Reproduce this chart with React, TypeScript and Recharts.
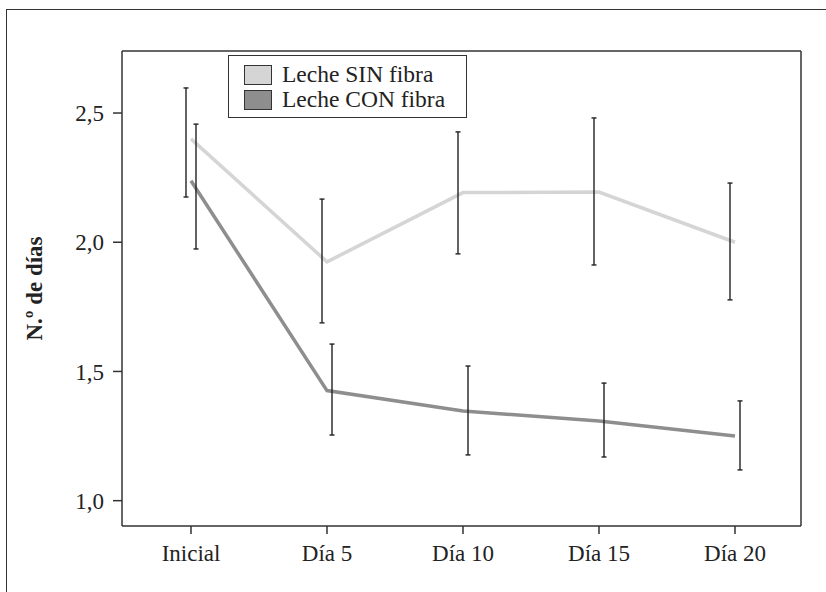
import React from "react";
import {
  LineChart,
  Line,
  XAxis,
  YAxis,
  ErrorBar,
  Legend,
} from "recharts";

const categories = ["Inicial", "Día 5", "Día 10", "Día 15", "Día 20"];
const seriesNames = ["Leche SIN fibra", "Leche CON fibra"];

// Leche SIN fibra
const sinFibra = [2.4, 1.924, 2.192, 2.194, 2.0];
const sinLow = [2.175, 1.688, 1.955, 1.912, 1.777];
const sinHigh = [2.597, 2.167, 2.427, 2.481, 2.229];

// Leche CON fibra
const conFibra = [2.238, 1.426, 1.347, 1.308, 1.25];
const conLow = [1.974, 1.254, 1.177, 1.169, 1.119];
const conHigh = [2.457, 1.606, 1.521, 1.455, 1.386];

const yTicks = [1.0, 1.5, 2.0, 2.5];

const data = categories.map((cat, i) => ({
  cat,
  sin: sinFibra[i],
  con: conFibra[i],
  sinErr: [sinFibra[i] - sinLow[i], sinHigh[i] - sinFibra[i]],
  conErr: [conFibra[i] - conLow[i], conHigh[i] - conFibra[i]],
}));

const FONT = '"Liberation Serif", "Times New Roman", serif';
const AXIS = "#333";
const Y_DOMAIN = [0.902, 2.74];

function LegendBox({ payload }: any) {
  const items = (payload || [])
    .filter((p: any) => p.type !== "none")
    .sort(
      (a: any, b: any) =>
        seriesNames.indexOf(a.value) - seriesNames.indexOf(b.value)
    );
  return (
    <div
      style={{
        border: "1.5px solid #333",
        background: "#fff",
        padding: "6px 0 5px 15px",
        fontFamily: FONT,
        fontSize: 23.5,
        lineHeight: "25px",
        color: "#222",
        boxSizing: "border-box",
        width: 239,
      }}
    >
      {items.map((p: any) => (
        <div key={p.value} style={{ display: "flex", alignItems: "center" }}>
          <span
            style={{
              display: "inline-block",
              width: 26,
              height: 18,
              background: p.color,
              border: "1.5px solid #333",
              marginRight: 10,
            }}
          />
          {p.value}
        </div>
      ))}
    </div>
  );
}

export default function App() {
  return (
    <div
      style={{
        position: "absolute",
        left: 0,
        top: 0,
        width: 826,
        height: 592,
        overflow: "hidden",
        background: "#fff",
      }}
    >
      <div
        style={{
          position: "absolute",
          left: 6,
          top: 9,
          width: 840,
          height: 620,
          border: "1.5px solid #333",
        }}
      />
      <div style={{ position: "absolute", left: 0, top: 0 }}>
        <LineChart
          width={826}
          height={592}
          data={data}
          margin={{ top: 50, right: 24, left: 0, bottom: 0 }}
          style={{ fontFamily: FONT }}
        >
          <XAxis
            dataKey="cat"
            height={66}
            padding={{ left: 69, right: 66 }}
            stroke={AXIS}
            strokeWidth={1.5}
            tickSize={8}
            tickMargin={11}
            tick={{ fill: "#222", fontSize: 23, fontFamily: FONT }}
          />
          {/* top frame line, also the axis of the SIN error bars */}
          <XAxis
            xAxisId="errSin"
            dataKey="cat"
            orientation="top"
            height={1}
            tick={false}
            tickLine={false}
            stroke={AXIS}
            strokeWidth={1.5}
            padding={{ left: 64, right: 71 }}
          />
          <XAxis
            xAxisId="errCon"
            dataKey="cat"
            hide
            padding={{ left: 74, right: 61 }}
          />
          <YAxis
            width={122}
            domain={Y_DOMAIN}
            ticks={yTicks}
            allowDataOverflow
            stroke={AXIS}
            strokeWidth={1.5}
            tickSize={9}
            tickMargin={9}
            tickFormatter={(v: number) => v.toFixed(1).replace(".", ",")}
            tick={{ fill: "#222", fontSize: 23, fontFamily: FONT }}
            label={{
              value: "N.º de días",
              angle: -90,
              position: "insideLeft",
              offset: 34,
              style: {
                textAnchor: "middle",
                fontFamily: FONT,
                fontSize: 23,
                fontWeight: "bold",
                fill: "#222",
              },
            }}
          />
          {/* right frame line, also the y axis of the error bars */}
          <YAxis
            yAxisId="right"
            orientation="right"
            width={1}
            domain={Y_DOMAIN}
            allowDataOverflow
            tick={false}
            tickLine={false}
            stroke={AXIS}
            strokeWidth={1.5}
          />
          <Legend
            layout="vertical"
            align="center"
            verticalAlign="middle"
            wrapperStyle={{ position: "absolute", left: 228, top: 55, width: 239 }}
            content={<LegendBox />}
          />
          <Line
            name={seriesNames[0]}
            dataKey="sin"
            stroke="#d5d5d5"
            strokeWidth={3.5}
            dot={false}
            activeDot={false}
            isAnimationActive={false}
          />
          <Line
            name={seriesNames[1]}
            dataKey="con"
            stroke="#8e8e8e"
            strokeWidth={3.5}
            dot={false}
            activeDot={false}
            isAnimationActive={false}
          />
          <Line
            xAxisId="errSin"
            yAxisId="right"
            dataKey="sin"
            stroke="none"
            dot={false}
            activeDot={false}
            legendType="none"
            isAnimationActive={false}
          >
            <ErrorBar
              dataKey="sinErr"
              direction="y"
              width={2.5}
              stroke="#222"
              strokeWidth={1.4}
              isAnimationActive={false}
            />
          </Line>
          <Line
            xAxisId="errCon"
            yAxisId="right"
            dataKey="con"
            stroke="none"
            dot={false}
            activeDot={false}
            legendType="none"
            isAnimationActive={false}
          >
            <ErrorBar
              dataKey="conErr"
              direction="y"
              width={2.5}
              stroke="#222"
              strokeWidth={1.4}
              isAnimationActive={false}
            />
          </Line>
        </LineChart>
      </div>
    </div>
  );
}
